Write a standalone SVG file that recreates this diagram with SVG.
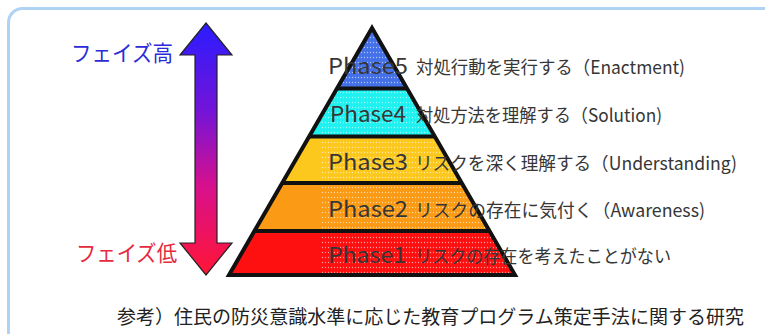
<svg xmlns="http://www.w3.org/2000/svg" width="765" height="334" viewBox="0 0 765 334">
<style>
.t{font-family:"Noto Sans CJK JP","Noto Sans",sans-serif;fill:#363636}
.lat{font-size:22px}
.jp{font-size:18px}
.sep{stroke:#111;stroke-width:4;fill:none}
</style>
<defs>
<clipPath id="tri"><polygon points="372,28 229,275 515,275"/></clipPath>
<pattern id="dots" x="0" y="0" width="3" height="5" patternUnits="userSpaceOnUse">
<circle cx="1.5" cy="2.5" r="0.65" fill="#fff" fill-opacity="0.6"/>
</pattern>
<linearGradient id="grad" x1="0" y1="23" x2="0" y2="275" gradientUnits="userSpaceOnUse">
<stop offset="0" stop-color="#2a1cff"/>
<stop offset="0.35" stop-color="#7414d8"/>
<stop offset="0.65" stop-color="#d8108c"/>
<stop offset="1" stop-color="#ff1535"/>
</linearGradient>
</defs>
<rect width="765" height="334" fill="#fff"/>
<rect id="frame" x="8.5" y="8.5" width="800" height="400" rx="14" fill="#fff" stroke="#afd3f5" stroke-width="3"/>

<g id="scale-arrow">
<path d="M206,23 L232,55 L217,55 L217,243 L232,243 L206,275 L180,243 L195,243 L195,55 L180,55 Z" fill="url(#grad)" stroke="#222" stroke-width="1.2" stroke-linejoin="miter"/>
</g>
<g id="label-high"><text class="t" x="71" y="61" font-size="22" textLength="102" lengthAdjust="spacingAndGlyphs" style="fill:#2b2bd8">フェイズ高</text></g>
<g id="label-low"><text class="t" x="76" y="261" font-size="22" textLength="101" lengthAdjust="spacingAndGlyphs" style="fill:#e42a3e">フェイズ低</text></g>

<g id="pyramid">
<g clip-path="url(#tri)">
<rect id="band5" x="220" y="20" width="310" height="68.5" fill="#4470e8"/>
<rect id="band4" x="220" y="88.5" width="310" height="48" fill="#1ff0f0"/>
<rect id="band3" x="220" y="136.5" width="310" height="46.5" fill="#fcc81e"/>
<rect id="band2" x="220" y="183" width="310" height="48" fill="#fb9a14"/>
<rect id="band1" x="220" y="231" width="310" height="50" fill="#ff1010"/>
<rect x="321" y="30" width="200" height="246" fill="url(#dots)"/>
<line class="sep" x1="220" y1="88.5" x2="530" y2="88.5"/>
<line class="sep" x1="220" y1="136.5" x2="530" y2="136.5"/>
<line class="sep" x1="220" y1="183" x2="530" y2="183"/>
<line class="sep" x1="220" y1="231" x2="530" y2="231"/>
</g>
<polygon points="372,28 229,275 515,275" fill="none" stroke="#111" stroke-width="4" stroke-linejoin="miter"/>
</g>

<g id="phase5">
<text class="t lat" x="328" y="74" textLength="80" lengthAdjust="spacingAndGlyphs">Phase5</text>
<text class="t jp" x="416" y="74" textLength="269" lengthAdjust="spacingAndGlyphs">対処行動を実行する（Enactment)</text>
</g>
<g id="phase4">
<text class="t lat" x="330" y="122" textLength="76" lengthAdjust="spacingAndGlyphs">Phase4</text>
<text class="t jp" x="416" y="122" textLength="246" lengthAdjust="spacingAndGlyphs">対処方法を理解する（Solution)</text>
</g>
<g id="phase3">
<text class="t lat" x="328" y="170" textLength="80" lengthAdjust="spacingAndGlyphs">Phase3</text>
<text class="t jp" x="415" y="170" textLength="322" lengthAdjust="spacingAndGlyphs">リスクを深く理解する（Understanding)</text>
</g>
<g id="phase2">
<text class="t lat" x="328" y="217" textLength="80" lengthAdjust="spacingAndGlyphs">Phase2</text>
<text class="t jp" x="415" y="217" textLength="290" lengthAdjust="spacingAndGlyphs">リスクの存在に気付く（Awareness)</text>
</g>
<g id="phase1">
<text class="t lat" x="328" y="263" textLength="78" lengthAdjust="spacingAndGlyphs">Phase1</text>
<text class="t jp" x="415" y="263" textLength="256" lengthAdjust="spacingAndGlyphs">リスクの存在を考えたことがない</text>
</g>

<g id="connectors"></g>

<g id="footer"><text class="t" x="117" y="324" font-size="19" textLength="627" lengthAdjust="spacingAndGlyphs" style="fill:#222">参考）住民の防災意識水準に応じた教育プログラム策定手法に関する研究</text></g>
</svg>
